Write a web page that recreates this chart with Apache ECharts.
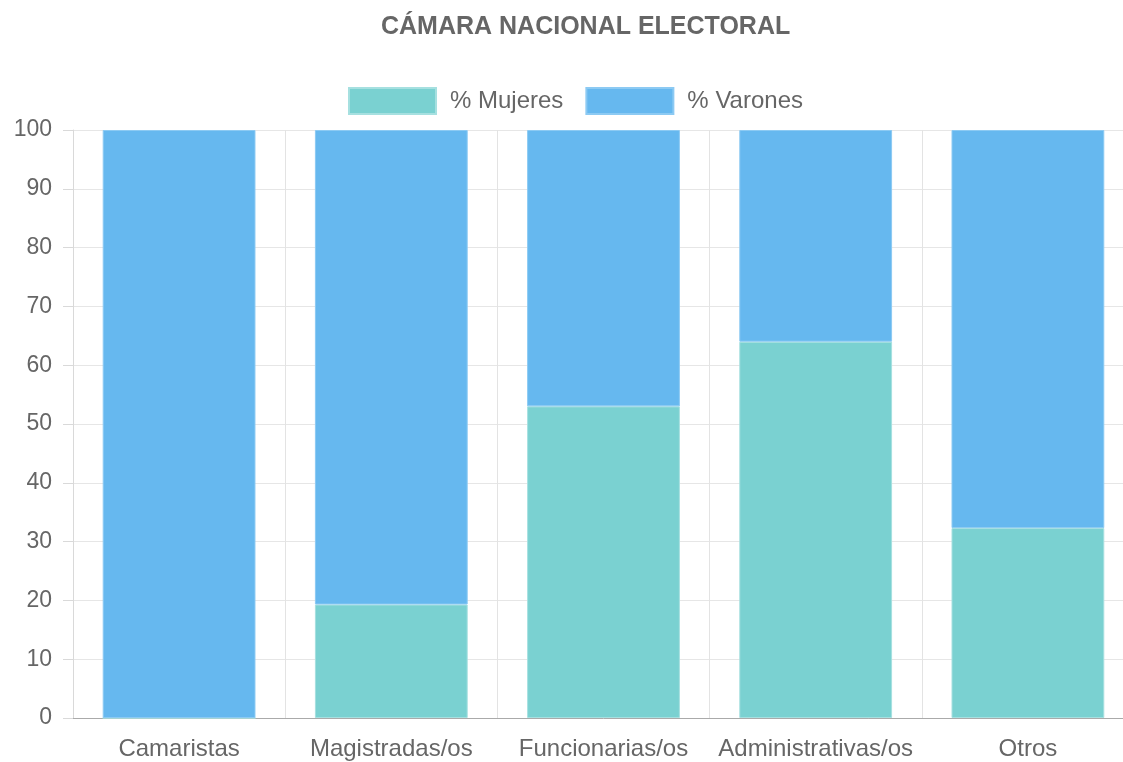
<!DOCTYPE html>
<html>
<head>
<meta charset="utf-8">
<script src="https://cdn.jsdelivr.net/npm/echarts@6/dist/echarts.min.js"></script>
<style>
  html, body { margin: 0; padding: 0; background: #fff; overflow: hidden; }
  #chart { width: 1134px; height: 762px; }
</style>
</head>
<body>
<div id="chart"></div>
<script>
var categorias = ['Camaristas', 'Magistradas/os', 'Funcionarias/os', 'Administrativas/os', 'Otros'];
var mujeres = [0, 19.3, 53, 64, 32.3];
var varones = [100, 80.7, 47, 36, 67.7];

var myChart = echarts.init(document.getElementById('chart'));

var option = {
    textStyle: { fontFamily: 'Liberation Sans, Arial, sans-serif' },
    title: {
        text: 'CÁMARA NACIONAL ELECTORAL',
        left: 376,
        top: 10,
        textStyle: { fontSize: 25, fontWeight: 'bold', color: '#666' }
    },
    legend: {
        data: ['% Mujeres', '% Varones'],
        icon: 'rect',
        top: 82,
        left: 343,
        itemWidth: 87,
        itemHeight: 26,
        itemGap: 22,
        textStyle: { fontSize: 24, color: '#666', padding: [0, 0, 0, 9] }
    },
    grid: {
        left: 73,
        right: 0,
        top: 130,
        bottom: 44
    },
    xAxis: {
        type: 'category',
        data: categorias,
        axisLine: { lineStyle: { color: '#aaa' } },
        axisTick: { length: 22, lineStyle: { color: '#d6d6d6' } },
        splitLine: { show: true, lineStyle: { color: '#e3e3e3' } },
        axisLabel: { fontSize: 24, color: '#666', margin: 19, interval: 0 }
    },
    yAxis: {
        type: 'value',
        min: 0,
        max: 100,
        interval: 10,
        axisLine: { show: true, lineStyle: { color: '#d9d9d9' } },
        axisTick: { show: true, length: 10, lineStyle: { color: '#d9d9d9' } },
        splitLine: { lineStyle: { color: '#e6e6e6' } },
        axisLabel: { fontSize: 23, color: '#666', margin: 21 }
    },
    series: [
        {
            name: '% Mujeres',
            type: 'bar',
            stack: 'total',
            barWidth: '72%',
            data: mujeres,
            itemStyle: { color: '#7ad1d1', borderColor: '#a6e0e0', borderWidth: 1 }
        },
        {
            name: '% Varones',
            type: 'bar',
            stack: 'total',
            barWidth: '72%',
            data: varones,
            itemStyle: { color: '#66b8ef', borderColor: '#8ccaf3', borderWidth: 1 }
        }
    ]
};

myChart.setOption(option);
</script>
</body>
</html>
